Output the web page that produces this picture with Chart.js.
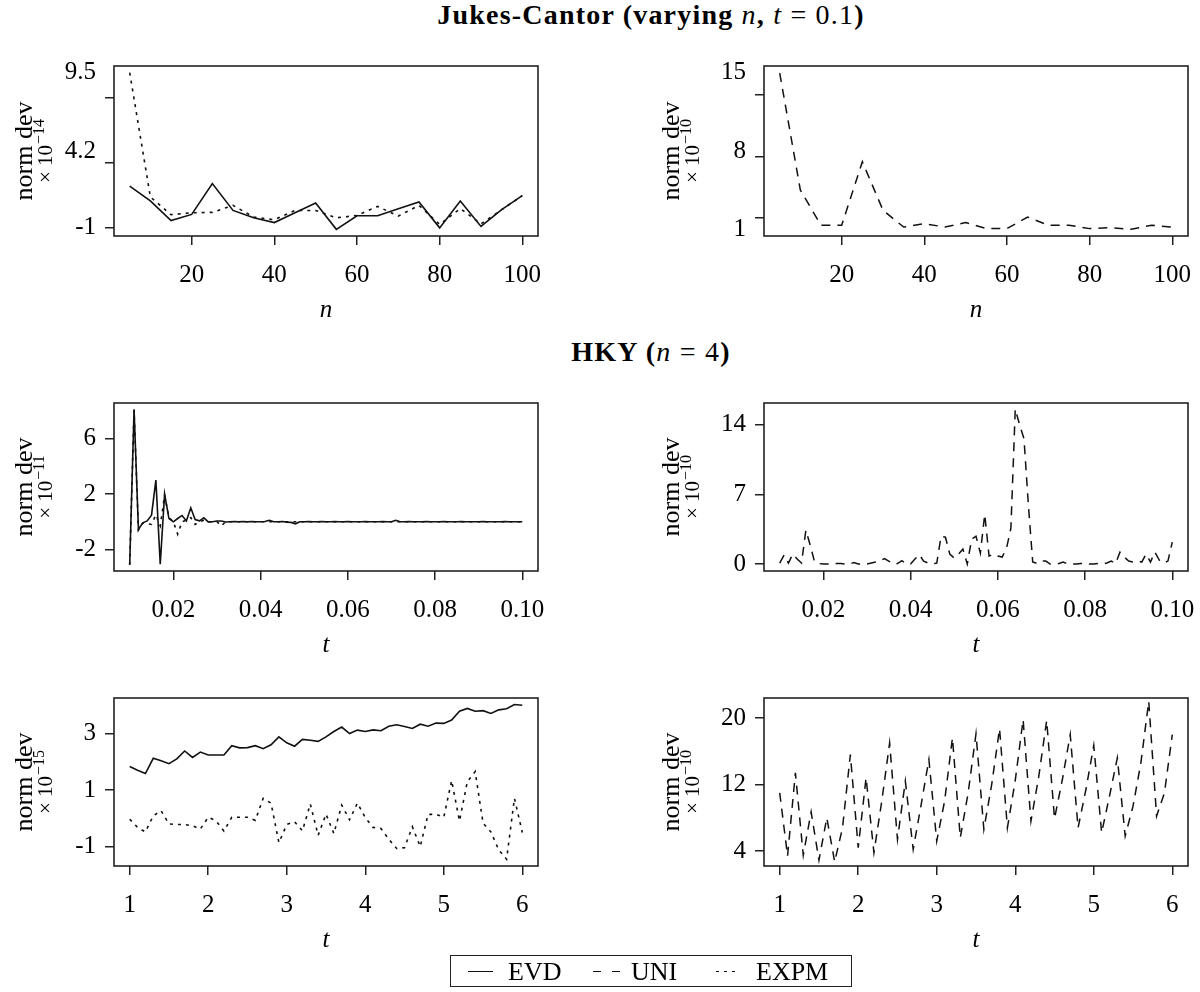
<!DOCTYPE html>
<html><head><meta charset="utf-8">
<script src="https://cdn.jsdelivr.net/npm/chart.js@4.4.1/dist/chart.umd.min.js"></script>
<style>
body{margin:0;background:#fff;width:1200px;height:992px;position:relative;overflow:hidden;font-family:'Liberation Serif',serif;color:#000}
canvas{position:absolute}
.title{position:absolute;left:0;width:1302px;text-align:center;font-size:28px;line-height:30px;font-weight:bold;white-space:nowrap;letter-spacing:1.2px}
.title i,.title .m{font-weight:normal}
#legend{position:absolute;left:450px;top:955px;width:400px;height:30px;border:1.5px solid #222;font-size:26px}
#legend span{position:absolute}
#legend .t{top:0;line-height:31px}
</style></head><body>
<div class="title" style="top:0px">Jukes-Cantor (varying <i>n</i>, <i>t</i> <span class="m">= 0.1</span>)</div>
<div class="title" style="top:337px">HKY (<i>n</i> <span class="m">= 4</span>)</div>
<canvas id="tl" width="560" height="270" style="left:0;top:56px"></canvas>
<canvas id="tr" width="600" height="270" style="left:600px;top:56px"></canvas>
<canvas id="ml" width="560" height="268" style="left:0;top:393px"></canvas>
<canvas id="mr" width="600" height="268" style="left:600px;top:393px"></canvas>
<canvas id="bl" width="560" height="268" style="left:0;top:688px"></canvas>
<canvas id="br" width="600" height="268" style="left:600px;top:688px"></canvas>
<div id="legend">
  <span style="left:17px;top:15px;width:25px;border-top:1.6px solid #111"></span>
  <span class="t" style="left:57px">EVD</span>
  <span style="left:142px;top:15px;width:8px;border-top:1.6px solid #111"></span>
  <span style="left:161px;top:15px;width:8px;border-top:1.6px solid #111"></span>
  <span class="t" style="left:180px">UNI</span>
  <span style="left:265px;top:15px;width:2.5px;border-top:1.6px solid #111"></span>
  <span style="left:273px;top:15px;width:2.5px;border-top:1.6px solid #111"></span>
  <span style="left:281px;top:15px;width:2.5px;border-top:1.6px solid #111"></span>
  <span class="t" style="left:305px">EXPM</span>
</div>
<script>
// ---------- DATA ----------
const nValues = [5,10,15,20,25,30,35,40,45,50,55,60,65,70,75,80,85,90,95,100];
const jcEVD  = [1.82,0.82,-0.5,-0.09,2.0,0.18,-0.32,-0.64,0.02,0.68,-1.1,-0.18,-0.18,0.3,0.75,-1.0,0.82,-0.9,0.23,1.18];
const jcEXPM = [9.5,1.09,-0.11,0.02,0.05,0.52,-0.27,-0.45,0.18,0.18,-0.32,-0.16,0.45,-0.2,0.52,-0.77,0.3,-0.73,0.23,1.18];
const jcUNI  = [14.97,4.5,1.36,1.36,7.04,2.7,1.2,1.5,1.2,1.6,1.06,1.06,2.1,1.36,1.36,1.06,1.15,1.0,1.36,1.2];

const tSmall = [0.010,0.011,0.012,0.013,0.014,0.015,0.016,0.017,0.018,0.019,
  0.020,0.021,0.022,0.023,0.024,0.025,0.026,0.027,0.028,0.029,
  0.030,0.031,0.032,0.033,0.034,0.035,0.036,0.037,0.038,0.039,
  0.040,0.041,0.042,0.043,0.044,0.045,0.046,0.047,0.048,0.049,
  0.050,0.051,0.052,0.053,0.054,0.055,0.056,0.057,0.058,0.059,
  0.060,0.061,0.062,0.063,0.064,0.065,0.066,0.067,0.068,0.069,
  0.070,0.071,0.072,0.073,0.074,0.075,0.076,0.077,0.078,0.079,
  0.080,0.081,0.082,0.083,0.084,0.085,0.086,0.087,0.088,0.089,
  0.090,0.091,0.092,0.093,0.094,0.095,0.096,0.097,0.098,0.099,0.100];
const hkySmallEVD = [-3.1,8.1,-0.56,-0.08,0.06,0.47,3.0,-3.06,2.0,0.23,
  -0.01,0.23,0.45,0.06,1.0,0.16,0.06,0.28,-0.01,0.0,
  0.05,0.05,-0.02,0.0,0.02,0.0,0.01,0.0,0.02,0.0,
  0.0,0.02,0.1,0.0,0.0,0.01,-0.03,-0.05,-0.15,0.0,
  0.0,0.01,0.0,0.0,0.01,0.0,0.0,0.01,0.0,0.0,
  0.01,0.0,0.0,0.0,0.01,0.0,0.0,0.0,0.01,0.0,
  0.0,0.1,0.0,0.0,0.01,0.0,0.0,0.0,0.01,0.0,
  0.0,0.0,0.01,0.0,0.0,0.0,0.01,0.0,0.0,0.0,
  0.0,0.01,0.0,0.0,0.0,0.0,0.01,0.0,0.0,0.0,0.0];
const hkySmallEXPM = [-3.1,8.0,-0.6,-0.1,-0.15,-0.2,0.5,-0.3,1.9,0.3,
  0.0,-0.9,0.0,0.1,0.3,-0.2,0.0,0.1,0.0,0.0,
  0.0,-0.3,0.0,0.0,0.0,0.0,0.0,0.0,0.0,0.0,
  0.0,0.0,0.0,0.0,0.0,0.0,0.0,0.0,0.0,0.0,
  0.0,0.0,0.0,0.0,0.0,0.0,0.0,0.0,0.0,0.0,
  0.0,0.0,0.0,0.0,0.0,0.0,0.0,0.0,0.0,0.0,
  0.0,0.0,0.0,0.0,0.0,0.0,0.0,0.0,0.0,0.0,
  0.0,0.0,0.0,0.0,0.0,0.0,0.0,0.0,0.0,0.0,
  0.0,0.0,0.0,0.0,0.0,0.0,0.0,0.0,0.0,0.0,0.0];
const hkySmallUNI = [0.1,0.9,0.1,1.0,0.5,0.1,3.4,1.9,0.2,0.05,
  0.0,0.0,0.0,0.05,0.05,0.0,0.0,0.15,0.0,0.0,
  0.0,0.1,0.2,0.3,0.55,0.3,0.0,0.05,0.35,0.0,
  0.0,0.5,0.95,0.3,0.1,0.0,0.1,2.8,2.7,1.0,
  0.6,1.0,1.5,0.0,2.5,2.8,1.1,5.0,0.8,1.0,
  0.8,0.7,1.6,3.6,15.6,14.0,12.6,6.0,0.2,0.05,
  0.3,0.3,0.0,0.0,0.05,0.2,0.0,0.0,0.0,0.05,
  0.1,0.0,0.0,0.05,0.0,0.1,0.3,0.05,1.2,0.7,
  0.3,0.2,0.3,0.2,1.0,0.2,1.2,0.4,0.1,0.3,2.2];

const tLarge = [1.0,1.1,1.2,1.3,1.4,1.5,1.6,1.7,1.8,1.9,
  2.0,2.1,2.2,2.3,2.4,2.5,2.6,2.7,2.8,2.9,
  3.0,3.1,3.2,3.3,3.4,3.5,3.6,3.7,3.8,3.9,
  4.0,4.1,4.2,4.3,4.4,4.5,4.6,4.7,4.8,4.9,
  5.0,5.1,5.2,5.3,5.4,5.5,5.6,5.7,5.8,5.9,6.0];
const hkyLargeEVD = [1.84,1.71,1.59,2.13,2.04,1.94,2.11,2.39,2.16,2.35,
  2.25,2.25,2.25,2.58,2.50,2.51,2.58,2.47,2.61,2.89,
  2.68,2.56,2.80,2.77,2.73,2.89,3.08,3.24,3.01,3.13,
  3.08,3.14,3.11,3.27,3.32,3.26,3.19,3.34,3.27,3.38,
  3.37,3.49,3.80,3.90,3.80,3.82,3.72,3.85,3.89,4.04,4.01];
const hkyLargeEXPM = [-0.03,-0.32,-0.48,0.09,0.27,-0.20,-0.22,-0.22,-0.26,-0.38,
  0.04,-0.09,-0.45,0.04,0.04,0.04,-0.07,0.71,0.54,-0.86,
  -0.22,-0.12,-0.44,0.51,-0.60,0.15,-0.54,0.47,-0.05,0.54,
  0.03,-0.32,-0.36,-0.74,-1.07,-1.04,-0.30,-1.00,0.14,0.14,
  0.04,1.34,-0.09,1.30,1.66,-0.17,-0.48,-1.12,-1.45,0.71,-0.50];
const hkyLargeUNI = [11.0,3.4,13.4,3.5,8.7,2.9,8.0,2.7,6.8,15.6,
  4.4,12.8,3.8,10.0,17.0,5.4,12.4,4.2,9.5,15.0,
  5.2,10.0,17.6,5.6,11.0,18.1,6.6,12.0,18.7,6.8,
  12.5,19.8,7.6,13.0,19.7,7.9,12.6,18.0,6.8,11.4,
  16.7,6.2,10.6,15.2,5.8,9.4,14.6,22.0,8.2,11.0,18.0];

// tick values / labels
const nTicks = [20,40,60,80,100];
const nTickLabels = ['20','40','60','80','100'];
const tSmallTicks = [0.02,0.04,0.06,0.08,0.10];
const tSmallTickLabels = ['0.02','0.04','0.06','0.08','0.10'];
const tLargeTicks = [1,2,3,4,5,6];
const tLargeTickLabels = ['1','2','3','4','5','6'];
const tlYTickMarks = [-1,3.4,7.8];
const tlYLabelVals = [9.5,4.2,-1];
const tlYLabels = ['9.5','4.2','-1'];
const trYTickMarks = [2,7.5,13];
const trYLabelVals = [15,8,1];
const trYLabels = ['15','8','1'];
const mlYTicks = [-2,2,6];
const mlYLabels = ['-2','2','6'];
const mrYTicks = [0,7,14];
const mrYLabels = ['0','7','14'];
const blYTicks = [-1,1,3];
const blYLabels = ['-1','1','3'];
const brYTicks = [4,12,20];
const brYLabels = ['4','12','20'];

// ---------- RENDER ----------
const FONT = "'Liberation Serif', serif";
const INK = '#111';
const STY = {
  EVD:  {dash: [], width: 1.6},
  UNI:  {dash: [9,7], width: 1.5},
  EXPM: {dash: [3,5], width: 1.6}
};

const framePlugin = {
  id: 'frame',
  afterDraw(chart) {
    const {ctx, chartArea: a} = chart;
    const o = chart.options.plugins.frame;
    ctx.save();
    ctx.strokeStyle = '#222';
    ctx.lineWidth = 1.6;
    ctx.strokeRect(a.left, a.top, a.right - a.left, a.bottom - a.top);
    ctx.fillStyle = '#000';
    if (o.labelVals) {
      const ys = chart.scales.y;
      ctx.font = '25px ' + FONT;
      ctx.textAlign = 'right';
      ctx.textBaseline = 'middle';
      o.labelVals.forEach((v, i) => ctx.fillText(o.labels[i], a.left - 18, ys.getPixelForValue(v)));
    }
    const cy = (a.top + a.bottom) / 2;
    ctx.save();
    ctx.translate(a.left - o.titleOff, cy);
    ctx.rotate(-Math.PI / 2);
    ctx.textAlign = 'center';
    ctx.textBaseline = 'middle';
    ctx.font = '26px ' + FONT;
    ctx.fillText('norm dev', 0, 0);
    ctx.restore();
    ctx.save();
    ctx.translate(a.left - o.titleOff + 20, cy);
    ctx.rotate(-Math.PI / 2);
    ctx.textBaseline = 'alphabetic';
    ctx.textAlign = 'left';
    ctx.font = '21px ' + FONT;
    const base = '\u00d7 10';
    const w1 = ctx.measureText(base).width;
    ctx.font = '16px ' + FONT;
    const w2 = ctx.measureText(o.exp).width;
    const start = -(w1 + w2 + 1) / 2;
    ctx.font = '21px ' + FONT;
    ctx.fillText(base, start, 7);
    ctx.font = '16px ' + FONT;
    ctx.fillText(o.exp, start + w1 + 1, -1);
    ctx.restore();
    ctx.restore();
  }
};

function zeroPad(s) { s.paddingTop = 0; s.paddingBottom = 0; s.paddingLeft = 0; s.paddingRight = 0; }

function makeChart(id, p) {
  const datasets = p.series.map(s => ({
    data: p.x.map((x, i) => ({x: x, y: s.values[i]})),
    borderColor: INK, borderWidth: STY[s.name].width, borderDash: STY[s.name].dash,
    pointRadius: 0, tension: 0, fill: false
  }));
  const grid = {display: true, drawOnChartArea: false, drawTicks: true, tickLength: 9, color: '#222', lineWidth: 1.5};
  new Chart(document.getElementById(id), {
    type: 'line',
    data: {datasets},
    options: {
      responsive: false, animation: false, devicePixelRatio: 1,
      layout: {padding: {top: 10, right: p.right, bottom: 0, left: 0}},
      plugins: {legend: {display: false}, tooltip: {enabled: false},
        frame: {labelVals: p.yLabelVals, labels: p.yLabelTexts, exp: p.exp, titleOff: p.titleOff}},
      scales: {
        x: {
          type: 'linear', min: p.xMin, max: p.xMax,
          afterBuildTicks: s => { s.ticks = p.xTicks.map(v => ({value: v})); },
          afterFit: s => { s.height = 90; zeroPad(s); },
          grid: grid, border: {display: false},
          ticks: {font: {family: FONT, size: 25}, color: '#000', padding: 15, maxRotation: 0, autoSkip: false,
                  callback: (v, i) => p.xTickLabels[i]},
          title: {display: true, text: p.xTitle, font: {family: FONT, size: 25, style: 'italic'}, color: '#000',
                  padding: {top: 0, bottom: 1}}
        },
        y: {
          type: 'linear', min: p.yMin, max: p.yMax,
          afterBuildTicks: s => { s.ticks = p.yTicks.map(v => ({value: v})); },
          afterFit: s => { s.width = p.yWidth; zeroPad(s); },
          grid: grid, border: {display: false},
          ticks: {font: {family: FONT, size: 25}, color: '#000', padding: 9, autoSkip: false,
                  callback: (v, i) => (p.yTickLabels ? p.yTickLabels[i] : '')}
        }
      }
    },
    plugins: [framePlugin]
  });
}

const L = {yWidth: 114, right: 22, titleOff: 89};
const R = {yWidth: 164, right: 12, titleOff: 92};

makeChart('tl', Object.assign({}, L, {x: nValues, series: [{name:'EVD', values: jcEVD}, {name:'EXPM', values: jcEXPM}],
  xMin: 1.2, xMax: 103.8, xTicks: nTicks, xTickLabels: nTickLabels, xTitle: 'n',
  yMin: -1.55, yMax: 9.95, yTicks: tlYTickMarks, yLabelVals: tlYLabelVals, yLabelTexts: tlYLabels, exp: '\u221214'}));
makeChart('tr', Object.assign({}, R, {x: nValues, series: [{name:'UNI', values: jcUNI}],
  xMin: 1.2, xMax: 103.8, xTicks: nTicks, xTickLabels: nTickLabels, xTitle: 'n',
  yMin: 0.4, yMax: 15.6, yTicks: trYTickMarks, yLabelVals: trYLabelVals, yLabelTexts: trYLabels, exp: '\u221210'}));
makeChart('ml', Object.assign({}, L, {x: tSmall, series: [{name:'EVD', values: hkySmallEVD}, {name:'EXPM', values: hkySmallEXPM}],
  xMin: 0.0064, xMax: 0.1036, xTicks: tSmallTicks, xTickLabels: tSmallTickLabels, xTitle: 't',
  yMin: -3.55, yMax: 8.55, yTicks: mlYTicks, yTickLabels: mlYLabels, exp: '\u221211'}));
makeChart('mr', Object.assign({}, R, {x: tSmall, series: [{name:'UNI', values: hkySmallUNI}],
  xMin: 0.0064, xMax: 0.1036, xTicks: tSmallTicks, xTickLabels: tSmallTickLabels, xTitle: 't',
  yMin: -0.7, yMax: 16.2, yTicks: mrYTicks, yTickLabels: mrYLabels, exp: '\u221210'}));
makeChart('bl', Object.assign({}, L, {x: tLarge, series: [{name:'EVD', values: hkyLargeEVD}, {name:'EXPM', values: hkyLargeEXPM}],
  xMin: 0.8, xMax: 6.2, xTicks: tLargeTicks, xTickLabels: tLargeTickLabels, xTitle: 't',
  yMin: -1.69, yMax: 4.27, yTicks: blYTicks, yTickLabels: blYLabels, exp: '\u221215'}));
makeChart('br', Object.assign({}, R, {x: tLarge, series: [{name:'UNI', values: hkyLargeUNI}],
  xMin: 0.8, xMax: 6.2, xTicks: tLargeTicks, xTickLabels: tLargeTickLabels, xTitle: 't',
  yMin: 2.2, yMax: 22.4, yTicks: brYTicks, yTickLabels: brYLabels, exp: '\u221210'}));
</script>
</body></html>
